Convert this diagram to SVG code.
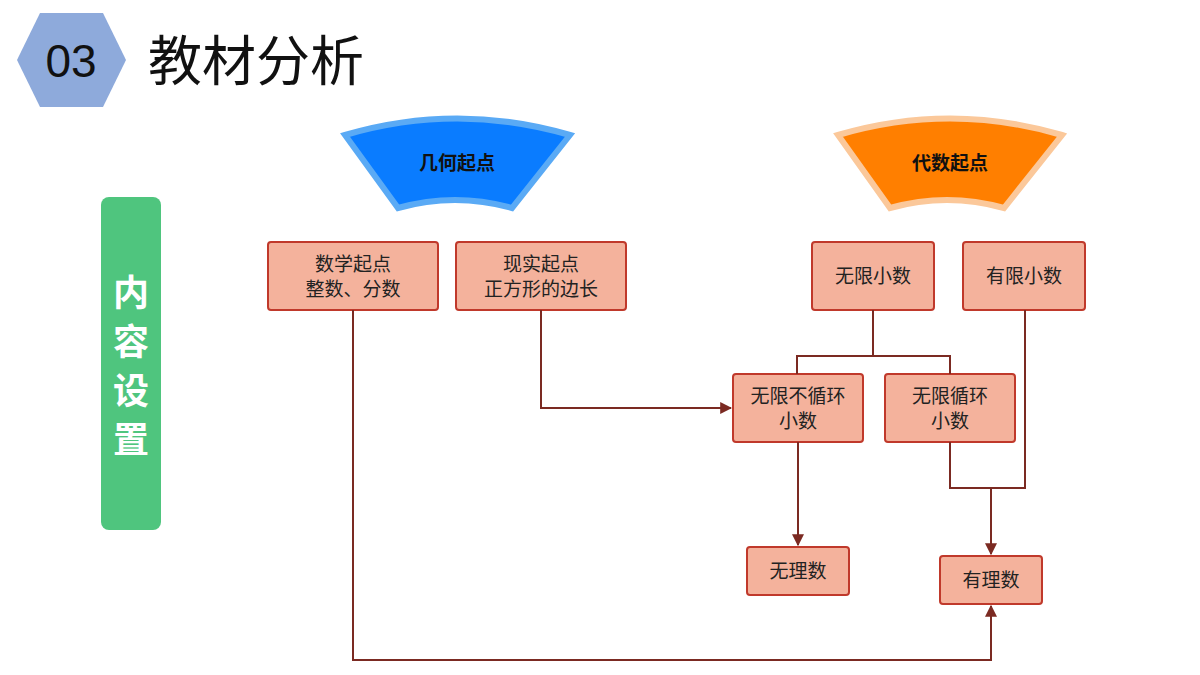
<svg xmlns="http://www.w3.org/2000/svg" width="1200" height="675" viewBox="0 0 1200 675">
<style>
.b{fill:#f4b29c;stroke:#c0392b;stroke-width:2}
.t{font-family:"Noto Sans CJK SC","Liberation Sans",sans-serif;font-size:19px;fill:#222;text-anchor:middle}
.c{fill:none;stroke:#7b2a22;stroke-width:2}
.h{font-family:"Noto Sans CJK SC",sans-serif;font-size:19px;font-weight:bold;fill:#111;text-anchor:middle}
</style>
<defs><marker id="a" viewBox="0 0 10 10" refX="9" refY="5" markerWidth="6" markerHeight="6" orient="auto"><path d="M0,0L10,5L0,10z" fill="#7b2a22"/></marker></defs>
<rect width="1200" height="675" fill="#fff"/>
<g id="title">
<polygon points="17,60 40,13 103,13 126,60 103,107 40,107" fill="#8eaadb"/>
<text x="71" y="77" font-family="Liberation Sans,sans-serif" font-size="46" text-anchor="middle" fill="#111">03</text>
<text x="148" y="81" font-family="Noto Sans CJK SC,sans-serif" font-size="54" fill="#111">教材分析</text>
</g>
<g id="side">
<rect x="101" y="197" width="60" height="333" rx="8" fill="#4fc57e"/>
<text font-family="Noto Sans CJK SC,sans-serif" font-size="36" font-weight="bold" fill="#fff" text-anchor="middle"><tspan x="131" y="306">内</tspan><tspan x="131" y="355">容</tspan><tspan x="131" y="404">设</tspan><tspan x="131" y="453">置</tspan></text>
</g>
<g id="geo">
<path d="M345,135 Q457,102 570,135 L512,208 Q455,192 398,208 Z" fill="#0a7cff" stroke="#5aaaf5" stroke-width="6"/>
<text class="h" x="457" y="170">几何起点</text>
</g>
<g id="alg">
<path d="M838,135 Q950,102 1062,135 L1004,208 Q947,192 890,208 Z" fill="#ff7f00" stroke="#fbc89a" stroke-width="6"/>
<text class="h" x="950" y="170">代数起点</text>
</g>
<g id="n1"><rect class="b" x="268" y="242" width="170" height="68" rx="3"/><text class="t" x="353" y="271">数学起点</text><text class="t" x="353" y="296">整数、分数</text></g>
<g id="n2"><rect class="b" x="456" y="242" width="170" height="68" rx="3"/><text class="t" x="541" y="271">现实起点</text><text class="t" x="541" y="296">正方形的边长</text></g>
<g id="n3"><rect class="b" x="812" y="242" width="122" height="68" rx="3"/><text class="t" x="873" y="283">无限小数</text></g>
<g id="n4"><rect class="b" x="963" y="242" width="122" height="68" rx="3"/><text class="t" x="1024" y="283">有限小数</text></g>
<g id="n5"><rect class="b" x="733" y="374" width="130" height="68" rx="3"/><text class="t" x="798" y="403">无限不循环</text><text class="t" x="798" y="428">小数</text></g>
<g id="n6"><rect class="b" x="885" y="374" width="130" height="68" rx="3"/><text class="t" x="950" y="403">无限循环</text><text class="t" x="950" y="428">小数</text></g>
<g id="n7"><rect class="b" x="747" y="547" width="102" height="48" rx="3"/><text class="t" x="798" y="578">无理数</text></g>
<g id="n8"><rect class="b" x="940" y="556" width="102" height="48" rx="3"/><text class="t" x="991" y="587">有理数</text></g>
<g id="connectors">
<path class="c" d="M873,310V356M797,374V356H950V374"/>
<path class="c" d="M541,310V408H731" marker-end="url(#a)"/>
<path class="c" d="M798,442V545" marker-end="url(#a)"/>
<path class="c" d="M950,442V488H1025V310"/>
<path class="c" d="M991,488V554" marker-end="url(#a)"/>
<path class="c" d="M353,310V660H991V606" marker-end="url(#a)"/>
</g>
</svg>
